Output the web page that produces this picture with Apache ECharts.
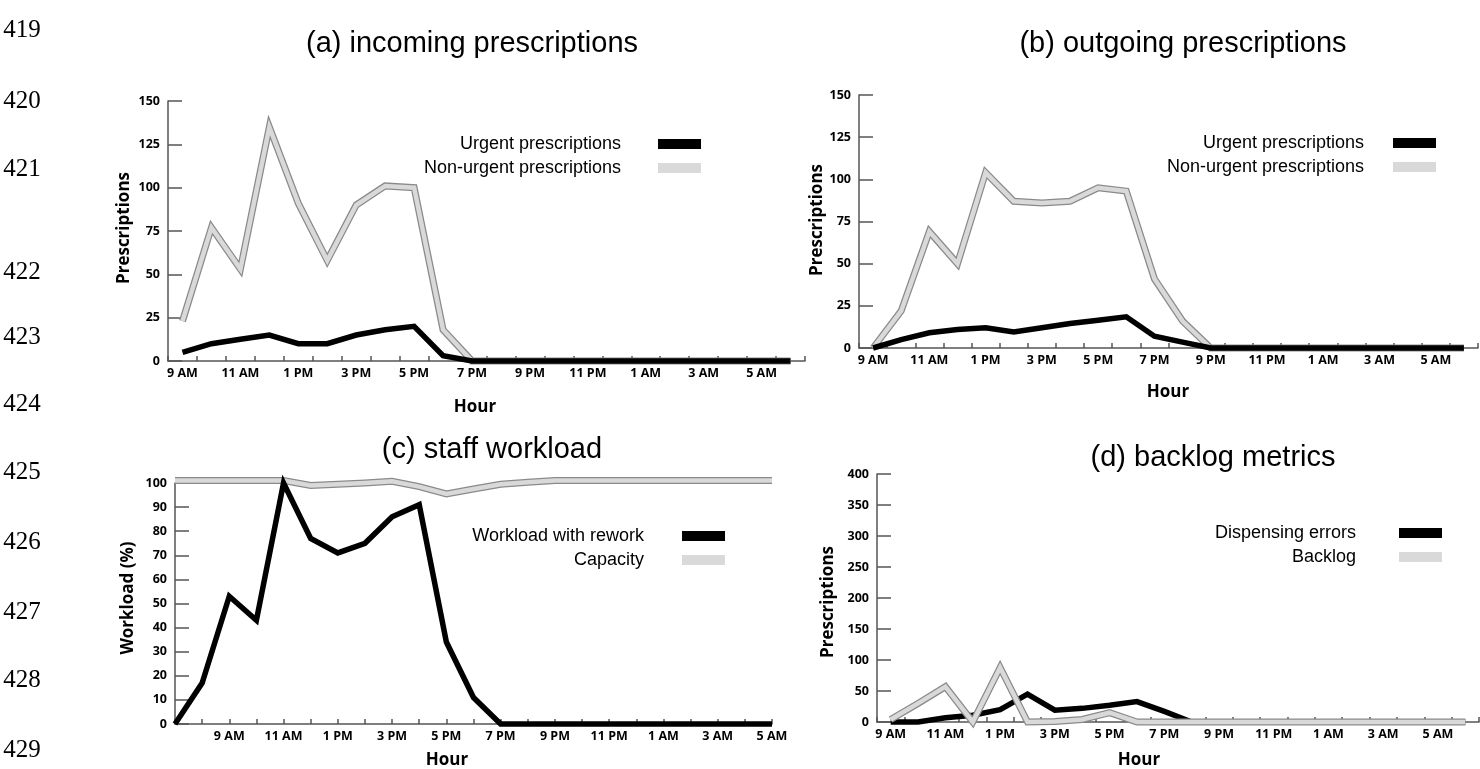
<!DOCTYPE html>
<html>
<head>
<meta charset="utf-8">
<script src="https://cdn.jsdelivr.net/npm/echarts@6/dist/echarts.min.js"></script>
<style>
html,body{margin:0;padding:0;background:#fff;}
#chart{width:1480px;height:769px;}
</style>
</head>
<body>
<div id="chart"></div>
<script>
// ---- categories ----
const hoursAB = ['9 AM','10 AM','11 AM','12 PM','1 PM','2 PM','3 PM','4 PM','5 PM','6 PM','7 PM','8 PM','9 PM','10 PM','11 PM','12 AM','1 AM','2 AM','3 AM','4 AM','5 AM','6 AM'];
const hoursC = ['7 AM','8 AM','9 AM','10 AM','11 AM','12 PM','1 PM','2 PM','3 PM','4 PM','5 PM','6 PM','7 PM','8 PM','9 PM','10 PM','11 PM','12 AM','1 AM','2 AM','3 AM','4 AM','5 AM'];

// ---- series values ----
const urgentIn     = [5,10,12.5,15,10,10,15,18,20,3,0,0,0,0,0,0,0,0,0,0,0,0];
const nonUrgentIn  = [23,77,53,135,91,58,90,101,100,18,0,0,0,0,0,0,0,0,0,0,0,0];
const urgentOut    = [0,5,9,11,12,9.5,12,14.5,16.5,18.5,7,3.5,0,0,0,0,0,0,0,0,0,0];
const nonUrgentOut = [0,22,69,50,104,87,86,87,95,93,41,16,0,0,0,0,0,0,0,0,0,0];
const workload     = [0,17,53,43,100,77,71,75,86,91,34,11,0,0,0,0,0,0,0,0,0,0,0];
const capacity     = [101,101,101,101,101,99,99.5,100,100.7,98.5,95.5,97.5,99.5,100.3,101,101,101,101,101,101,101,101,101];
const errors       = [0,0,7,11,20,45,19,22,27,33,17,0,0,0,0,0,0,0,0,0,0,0];
const backlog      = [4,30,57,0,88,0,1,4,15,0,0,0,0,0,0,0,0,0,0,0,0,0];

// ---- texts ----
const lineNumbers = ['419','420','421','422','423','424','425','426','427','428','429'];
const panelTitles = ['(a) incoming prescriptions','(b) outgoing prescriptions','(c) staff workload','(d) backlog metrics'];
const yNames = ['Prescriptions','Prescriptions','Workload (%)','Prescriptions'];
const xName = 'Hour';

const AXIS = '#555';
const TICKFONT = {fontFamily:'Open Sans', fontWeight:'bold', fontSize:12.5, color:'#000'};

function xAxisCfg(gi, data, boundaryGap, labelInterval) {
  return {
    gridIndex: gi, type: 'category', data: data, boundaryGap: boundaryGap,
    axisLine: {show: true, lineStyle: {color: AXIS, width: 1.5}},
    axisTick: {show: true, inside: true, length: 5, interval: 0, alignWithLabel: false, lineStyle: {color: AXIS, width: 1.5}},
    axisLabel: Object.assign({interval: labelInterval, margin: 6}, TICKFONT),
    splitLine: {show: false}
  };
}
function yAxisCfg(gi, max, interval) {
  return {
    gridIndex: gi, type: 'value', min: 0, max: max, interval: interval,
    axisLine: {show: true, lineStyle: {color: AXIS, width: 1.5}},
    axisTick: {show: true, inside: true, length: 14, lineStyle: {color: AXIS, width: 1.5}},
    axisLabel: Object.assign({margin: 8}, TICKFONT),
    splitLine: {show: false}
  };
}
function blackLine(name, data, i) {
  return {name: name, type: 'line', xAxisIndex: i, yAxisIndex: i, data: data, symbol: 'none',
    color: '#000', clip: false,
    lineStyle: {color: '#000', width: 5.5, join: 'miter', miterLimit: 10, cap: 'butt'}, z: 3};
}
function grayLines(name, data, i) {
  return [
    {name: name + ' outline', type: 'line', xAxisIndex: i, yAxisIndex: i, data: data, symbol: 'none',
      color: '#8a8a8a', clip: false,
      lineStyle: {color: '#8a8a8a', width: 7, join: 'miter', miterLimit: 10, cap: 'butt'}},
    {name: name, type: 'line', xAxisIndex: i, yAxisIndex: i, data: data, symbol: 'none',
      color: '#d9d9d9', clip: false,
      lineStyle: {color: '#d9d9d9', width: 4.5, join: 'miter', miterLimit: 10, cap: 'butt'}}
  ];
}
function legendCfg(names, right, top, gapPad) {
  return {
    data: names, orient: 'vertical', right: right, top: top, align: 'right',
    icon: 'rect', itemWidth: 43, itemHeight: 10, itemGap: 6, padding: 0, selectedMode: false,
    textStyle: {fontFamily: 'Liberation Sans', fontSize: 18, lineHeight: 18, color: '#000', padding: [0, gapPad, 0, 0]}
  };
}
function txt(text, x, y, size, family, weight, rot) {
  return {type: 'text', x: x, y: y, rotation: rot || 0, silent: true,
    style: {text: text, x: 0, y: 0, fill: '#000', fontSize: size, fontFamily: family, fontWeight: weight || 'normal',
      align: 'center', verticalAlign: 'middle'}};
}

const lineNumY = [30, 101, 169, 272, 337, 404, 472, 542, 612, 680, 750];
const graphics = [];
lineNumbers.forEach((t, k) => graphics.push(txt(t, 22, lineNumY[k], 25, 'Liberation Serif')));
const titlePos = [[472, 44], [1183, 44], [492, 450], [1213, 458]];
panelTitles.forEach((t, k) => graphics.push(txt(t, titlePos[k][0], titlePos[k][1], 29, 'Liberation Sans')));
const yNamePos = [[124, 228], [817, 220], [128, 598], [828, 602]];
yNames.forEach((t, k) => graphics.push(txt(t, yNamePos[k][0], yNamePos[k][1], 17, 'Open Sans', 'bold', Math.PI / 2)));
const xNamePos = [[475, 407], [1168, 392], [447, 760], [1139, 760]];
xNamePos.forEach(p => graphics.push(txt(xName, p[0], p[1], 17, 'Open Sans', 'bold')));

const series = [].concat(
  grayLines('Non-urgent prescriptions', nonUrgentIn, 0),
  [blackLine('Urgent prescriptions', urgentIn, 0)],
  grayLines('Non-urgent prescriptions ', nonUrgentOut, 1),
  [blackLine('Urgent prescriptions ', urgentOut, 1)],
  grayLines('Capacity', capacity, 2),
  [blackLine('Workload with rework', workload, 2)],
  [Object.assign(blackLine('Dispensing errors', errors, 3), {z: 2})],
  grayLines('Backlog', backlog, 3).map(s => Object.assign(s, {z: 3}))
);

const option = {
  animation: false,
  backgroundColor: '#fff',
  grid: [
    {left: 168, top: 101, width: 637, height: 260},
    {left: 859, top: 95, width: 619, height: 253},
    {left: 175, top: 483, width: 597, height: 241},
    {left: 877, top: 474, width: 602, height: 248}
  ],
  xAxis: [
    xAxisCfg(0, hoursAB, true, 1),
    xAxisCfg(1, hoursAB, true, 1),
    xAxisCfg(2, hoursC, false, function (idx) { return idx > 0 && idx % 2 === 0; }),
    xAxisCfg(3, hoursAB, true, 1)
  ],
  yAxis: [
    yAxisCfg(0, 150, 25),
    yAxisCfg(1, 150, 25),
    yAxisCfg(2, 100, 10),
    yAxisCfg(3, 400, 50)
  ],
  legend: [
    legendCfg(['Urgent prescriptions', 'Non-urgent prescriptions'], 779, 135, 32),
    legendCfg(['Urgent prescriptions ', 'Non-urgent prescriptions '], 44, 134, 19),
    legendCfg(['Workload with rework', 'Capacity'], 755, 527, 33),
    legendCfg(['Dispensing errors', 'Backlog'], 38, 524, 38)
  ],
  graphic: graphics,
  series: series
};

const chart = echarts.init(document.getElementById('chart'), null, {renderer: 'canvas'});
chart.setOption(option);
</script>
</body>
</html>
